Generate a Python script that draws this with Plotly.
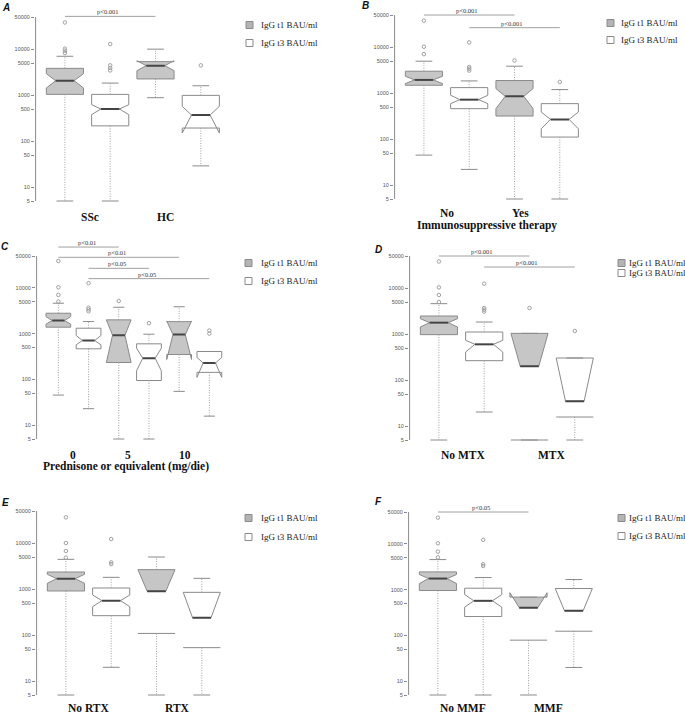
import numpy as np
import plotly.graph_objects as go

W, H = 685, 715

# ---------------- data (BAU/ml) ----------------
# box order inside each panel: group1 t1, group1 t3, group2 t1, group2 t3, ...
SERIES = ["IgG t1 BAU/ml", "IgG t3 BAU/ml"]
TICK_VALS = [5, 10, 50, 100, 500, 1000, 5000, 10000, 50000]
TICK_TEXT = ["5", "10", "50", "100", "500", "1000", "5000", "10000", "50000"]

A_groups = ["SSc", "HC"]
A_lw  = [5, 5, 880, 29]
A_q1  = [1040, 215, 2250, 193]
A_med = [2060, 500, 4380, 370]
A_q3  = [3830, 1040, 5350, 990]
A_uw  = [7000, 1830, 10000, 1600]
A_nlo = [1430, 377, 3400, 150]
A_nhi = [2930, 620, 5600, 570]
A_out = [[38000, 10250, 9270, 8250], [12900, 4450, 3900, 3450], [], [4450]]
A_pvals = [(1, 3, "p<0.001")]

B_groups = ["No", "Yes"]
B_title = "Immunosuppressive therapy"
B_lw  = [45, 22, 5, 5]
B_q1  = [1485, 460, 318, 111]
B_med = [1940, 722, 855, 269]
B_q3  = [3000, 1320, 1880, 592]
B_uw  = [4950, 1845, 3855, 1195]
B_nlo = [1615, 592, 460, 168]
B_nhi = [2330, 900, 1255, 389]
B_out = [[37600, 10200, 7050], [12700, 3700, 3400, 3100], [5130], [1755]]
B_pvals = [(1, 3, "p<0.001"), (2, 4, "p<0.001")]

C_groups = ["0", "5", "10"]
C_title = "Prednisone or equivalent (mg/die)"
C_lw  = [45.6, 23, 5, 5, 55, 15.8]
C_q1  = [1390, 468, 235, 95, 352, 143]
C_med = [1940, 711, 929, 292, 959, 230]
C_q3  = [2805, 1320, 2010, 601, 1835, 409]
C_uw  = [4640, 1845, 3790, 977, 3890, 409]
C_nlo = [1615, 572, 235, 155, 274, 111]
C_nhi = [2370, 914, 2010, 483, 1900, 303]
C_out = [[38900, 10350, 7050, 5050], [12700, 3700, 3400, 3100], [5210], [1700], [], [1172, 1007]]
C_pvals = [(1, 3, "p<0.01"), (1, 5, "p<0.01"), (2, 4, "p<0.05"), (2, 6, "p<0.05")]

D_groups = ["No MTX", "MTX"]
D_lw  = [5, 20.3, 5, 5]
D_q1  = [975, 265, 5, 15.8]
D_med = [1778, 601, 200, 34.7]
D_q3  = [2480, 1114, 1040, 303]
D_uw  = [4600, 1835, 1040, 303]
D_nlo = [1432, 409, None, None]
D_nhi = [2170, 735, 1040, 303]
D_out = [[38000, 10400, 7100, 5000], [12500, 3700, 3400, 3100], [3705], [1172]]
D_pvals = [(1, 3, "p<0.001"), (2, 4, "p<0.001")]

E_groups = ["No RTX", "RTX"]
E_lw  = [5, 20, 5, 5]
E_q1  = [912, 265, 109, 53.5]
E_med = [1690, 562, 897, 240]
E_q3  = [2360, 1060, 2655, 853]
E_uw  = [4450, 1807, 5000, 1718]
E_nlo = [1340, 416, None, None]
E_nhi = [2100, 747, 2655, 853]
E_out = [[36400, 10070, 6750, 4840], [12300, 3830, 3500], [], []]
E_pvals = []

F_groups = ["No MMF", "MMF"]
F_lw  = [5, 5, 5, 20]
F_q1  = [961, 260, 79, 124]
F_med = [1755, 572, 405, 346]
F_q3  = [2455, 1080, 690, 1062]
F_uw  = [4560, 1845, 690, 1670]
F_nlo = [1365, 416, None, None]
F_nhi = [2150, 785, 860, 1062]
F_out = [[37600, 10350, 6800, 5100], [12300, 3600, 3300], [], []]
F_pvals = [(1, 3, "p<0.05")]

# ---------------- layout / placement (pixels) ----------------
PANELS = [
    dict(key="A", groups=A_groups, title=None, lw=A_lw, q1=A_q1, med=A_med, q3=A_q3, uw=A_uw,
         nlo=A_nlo, nhi=A_nhi, out=A_out, pvals=A_pvals, plevels=[51600],
         ax=35, unit=45.3, y50k=17, y5=201, letter=(6, 7),
         cat_px=[90, 165], cat_y=217, title_xy=None, leg_sq=246, leg_tx=259, leg_y=[25, 43]),
    dict(key="B", groups=B_groups, title=B_title, lw=B_lw, q1=B_q1, med=B_med, q3=B_q3, uw=B_uw,
         nlo=B_nlo, nhi=B_nhi, out=B_out, pvals=B_pvals, plevels=[50000, 26500],
         ax=394, unit=45.3, y50k=15, y5=199, letter=(366, 6),
         cat_px=[447, 520], cat_y=213, title_xy=(487, 226), leg_sq=607, leg_tx=619, leg_y=[23, 40]),
    dict(key="C", groups=C_groups, title=C_title, lw=C_lw, q1=C_q1, med=C_med, q3=C_q3, uw=C_uw,
         nlo=C_nlo, nhi=C_nhi, out=C_out, pvals=C_pvals, plevels=[78500, 46800, 26900, 16000],
         ax=36, unit=30.2, y50k=256, y5=439, letter=(5, 246),
         cat_px=[73, 128, 185], cat_y=455, title_xy=(126, 466), leg_sq=245, leg_tx=259, leg_y=[263, 281]),
    dict(key="D", groups=D_groups, title=None, lw=D_lw, q1=D_q1, med=D_med, q3=D_q3, uw=D_uw,
         nlo=D_nlo, nhi=D_nhi, out=D_out, pvals=D_pvals, plevels=[50000, 28800],
         ax=409, unit=45.3, y50k=256, y5=440, letter=(378, 250),
         cat_px=[463, 552], cat_y=455, title_xy=None, leg_sq=618, leg_tx=627, leg_y=[263, 273]),
    dict(key="E", groups=E_groups, title=None, lw=E_lw, q1=E_q1, med=E_med, q3=E_q3, uw=E_uw,
         nlo=E_nlo, nhi=E_nhi, out=E_out, pvals=E_pvals, plevels=[],
         ax=36, unit=45.3, y50k=511, y5=695, letter=(5, 502),
         cat_px=[89, 177], cat_y=708, title_xy=None, leg_sq=245, leg_tx=259, leg_y=[518, 537]),
    dict(key="F", groups=F_groups, title=None, lw=F_lw, q1=F_q1, med=F_med, q3=F_q3, uw=F_uw,
         nlo=F_nlo, nhi=F_nhi, out=F_out, pvals=F_pvals, plevels=[50000],
         ax=408, unit=45.3, y50k=512, y5=695, letter=(378, 501),
         cat_px=[463, 548], cat_y=708, title_xy=None, leg_sq=618, leg_tx=627, leg_y=[518, 536]),
]

FILLS = ["#c6c6c6", "#ffffff"]
BORDER = "#8a8a8a"
MEDIAN = "#444444"
WHISK = "#a0a0a0"
SERIF = "Liberation Serif"
SANS = "Liberation Sans"
HW = 0.41      # half box width (x units)
NF = 0.5       # notch fraction
STAPLE = 0.45  # staple half length as fraction of HW

fig = go.Figure()
layout = dict(width=W, height=H, margin=dict(l=0, r=0, t=0, b=0),
              paper_bgcolor="white", plot_bgcolor="white", showlegend=False)
annotations = []
shapes = []


def px_x(px):
    return px / W


def px_y(py):
    return 1 - py / H


for k, p in enumerate(PANELS, start=1):
    xa = "x" if k == 1 else f"x{k}"
    ya = "y" if k == 1 else f"y{k}"
    n = len(p["lw"])
    x0 = 0.5 - 0.04 * n
    x1 = n + 0.5 + 0.04 * n
    dec = (p["y5"] - p["y50k"]) / 4.0
    top = max(0, p["y50k"] - 30)
    bot = min(H, p["y5"] + 8)
    yr = [np.log10(5) - (bot - p["y5"]) / dec, np.log10(50000) + (p["y50k"] - top) / dec]
    layout[f"xaxis{k}"] = dict(domain=[px_x(p["ax"]), px_x(p["ax"] + (x1 - x0) * p["unit"])],
                               range=[x0, x1], visible=False, anchor=ya, fixedrange=True)
    layout[f"yaxis{k}"] = dict(domain=[px_y(bot), px_y(top)], type="log", range=yr, anchor=xa,
                               showgrid=False, zeroline=False, showline=False, fixedrange=True,
                               tickvals=TICK_VALS, ticktext=TICK_TEXT, ticks="outside",
                               ticklen=3, tickwidth=1, tickcolor="#8a8a8a",
                               tickfont=dict(family=SANS, size=5.5, color="#555"))

    # axis line from 5 to 50000
    xl = x0 + 0.6 / p["unit"]
    fig.add_trace(go.Scatter(x=[xl, xl], y=[5, 50000], mode="lines", xaxis=xa, yaxis=ya,
                             line=dict(color="#8a8a8a", width=1), hoverinfo="skip"))

    wx, wy, sx, sy, mx, my, ox, oy = [], [], [], [], [], [], [], []
    for i in range(n):
        c = i + 1
        s = i % 2
        lw, q1, med, q3, uw = p["lw"][i], p["q1"][i], p["med"][i], p["q3"][i], p["uw"][i]
        nlo, nhi = p["nlo"][i], p["nhi"][i]
        # whiskers (dotted) and staples
        if uw > q3:
            wx += [c, c, None]; wy += [q3, uw, None]
        if lw < q1:
            wx += [c, c, None]; wy += [q1, lw, None]
        for v in (uw, lw):
            sx += [c - STAPLE * HW, c + STAPLE * HW, None]; sy += [v, v, None]
        # box body
        if nlo is not None:
            bx = [-1, 1, 1, NF, 1, 1, -1, -1, -NF, -1, -1]
            by = [q1, q1, nlo, med, nhi, q3, q3, nhi, med, nlo, q1]
        else:
            bx = [NF, 1, 1, -1, -1, -NF, NF]
            by = [med, nhi, q3, q3, nhi, med, med]
            if q1 < med:
                sx += [c - HW, c + HW, None]; sy += [q1, q1, None]
        fig.add_trace(go.Scatter(x=[c + HW * b for b in bx], y=by, mode="lines", fill="toself",
                                 fillcolor=FILLS[s], line=dict(color=BORDER, width=1),
                                 xaxis=xa, yaxis=ya, hoverinfo="skip"))
        mx += [c - NF * HW, c + NF * HW, None]; my += [med, med, None]
        for o in p["out"][i]:
            ox.append(c); oy.append(o)

    fig.add_trace(go.Scatter(x=wx, y=wy, mode="lines", xaxis=xa, yaxis=ya,
                             line=dict(color=WHISK, width=1, dash="1px,1.5px"), hoverinfo="skip"))
    fig.add_trace(go.Scatter(x=sx, y=sy, mode="lines", xaxis=xa, yaxis=ya,
                             line=dict(color=BORDER, width=1), hoverinfo="skip"))
    fig.add_trace(go.Scatter(x=mx, y=my, mode="lines", xaxis=xa, yaxis=ya,
                             line=dict(color=MEDIAN, width=2), hoverinfo="skip"))
    fig.add_trace(go.Scatter(x=ox, y=oy, mode="markers", xaxis=xa, yaxis=ya,
                             marker=dict(symbol="circle-open", size=3.5, color="#a0a0a0",
                                         line=dict(width=1)), hoverinfo="skip"))

    # p-value brackets
    for (a, b, lab), lev in zip(p["pvals"], p["plevels"]):
        fig.add_trace(go.Scatter(x=[a, b], y=[lev, lev], mode="lines", xaxis=xa, yaxis=ya,
                                 line=dict(color="#a0a0a0", width=1), hoverinfo="skip"))
        annotations.append(dict(x=(a + b) / 2 - 0.05, y=np.log10(lev), xref=xa, yref=ya,
                                text=lab, showarrow=False, yanchor="bottom", xanchor="center",
                                yshift=-1, font=dict(family=SERIF, size=6.5, color="#333")))

    # panel letter
    annotations.append(dict(x=px_x(p["letter"][0]), y=px_y(p["letter"][1]), xref="paper", yref="paper",
                            text=f"<b><i>{p['key']}</i></b>", showarrow=False,
                            xanchor="center", yanchor="middle",
                            font=dict(family=SANS, size=10, color="#111")))
    # category labels
    for g, cx in zip(p["groups"], p["cat_px"]):
        annotations.append(dict(x=px_x(cx), y=px_y(p["cat_y"]), xref="paper", yref="paper",
                                text=f"<b>{g}</b>", showarrow=False, xanchor="center", yanchor="middle",
                                font=dict(family=SERIF, size=11.5, color="#111")))
    if p["title"]:
        annotations.append(dict(x=px_x(p["title_xy"][0]), y=px_y(p["title_xy"][1]), xref="paper",
                                yref="paper", text=f"<b>{p['title']}</b>", showarrow=False,
                                xanchor="center", yanchor="middle",
                                font=dict(family=SERIF, size=11.5, color="#111")))
    # legend (squares + text)
    for s, (name, ly) in enumerate(zip(SERIES, p["leg_y"])):
        shapes.append(dict(type="rect", xref="paper", yref="paper",
                           x0=px_x(p["leg_sq"]), x1=px_x(p["leg_sq"] + 7),
                           y0=px_y(ly + 3.5), y1=px_y(ly - 3.5),
                           fillcolor=["#b4b4b4", "#ffffff"][s], line=dict(color="#8a8a8a", width=1)))
        annotations.append(dict(x=px_x(p["leg_tx"]), y=px_y(ly), xref="paper", yref="paper",
                                text=name, showarrow=False, xanchor="left", yanchor="middle",
                                font=dict(family=SERIF, size=9, color="#222")))

layout["annotations"] = annotations
layout["shapes"] = shapes
fig.update_layout(**layout)
fig.write_html("out.html", config={"displayModeBar": False, "staticPlot": True},
               post_script="document.body.style.margin='0';document.body.style.overflow='hidden';")
